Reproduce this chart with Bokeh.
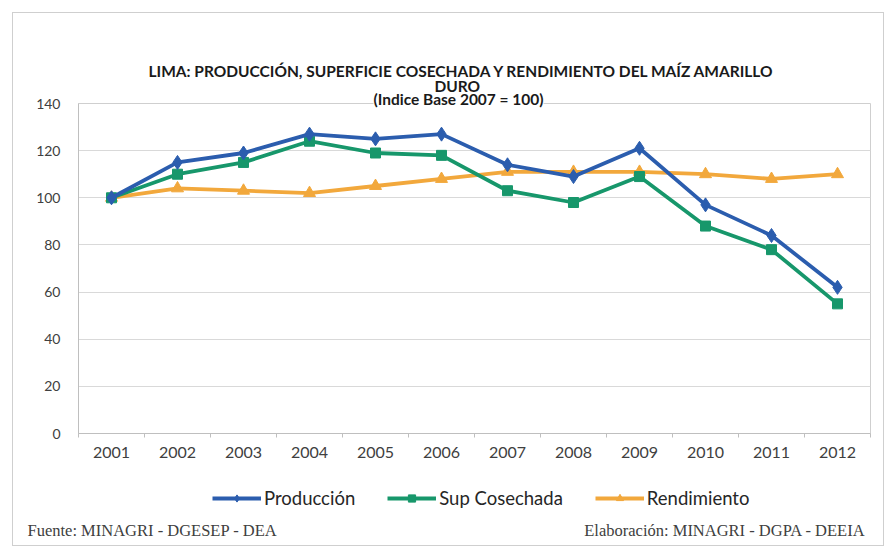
from bokeh.plotting import figure
from bokeh.models import (FixedTicker, Label, Legend, LegendItem, Title, InlineStyleSheet,
                          ColumnDataSource)
from bokeh.embed import file_html
from bokeh.resources import INLINE

years = [2001, 2002, 2003, 2004, 2005, 2006, 2007, 2008, 2009, 2010, 2011, 2012]
produccion = [100, 115, 119, 127, 125, 127, 114, 109, 121, 97, 84, 62]
sup_cosechada = [100, 110, 115, 124, 119, 118, 103, 98, 109, 88, 78, 55]
rendimiento = [100, 104, 103, 102, 105, 108, 111, 111, 111, 110, 108, 110]
y_ticks = [0, 20, 40, 60, 80, 100, 120, 140]
series_names = ["Producción", "Sup Cosechada", "Rendimiento"]

title_1 = "LIMA: PRODUCCIÓN, SUPERFICIE COSECHADA Y RENDIMIENTO DEL MAÍZ AMARILLO"
title_2 = "DURO"
title_3 = "(Indice Base 2007 = 100)"
fuente = "Fuente: MINAGRI - DGESEP - DEA"
elaboracion = "Elaboración: MINAGRI - DGPA - DEEIA"

FONT = "Lato"
c_prod = "#2B5DAE"
c_sup = "#17976B"
c_rend = "#F2A83C"

src = ColumnDataSource(data=dict(year=years, prod=produccion, sup=sup_cosechada, rend=rendimiento))

# ---------------- main chart ----------------
p = figure(width=880, height=470, x_range=(years[0] - 0.5, years[-1] + 0.5),
           y_range=(y_ticks[0], y_ticks[-1]), output_backend="svg",
           toolbar_location=None, min_border_left=78, min_border_right=10,
           min_border_top=103, min_border_bottom=37,
           background_fill_color="white", border_fill_color="white")
p.outline_line_color = "#cfcfcf"


def make_title(txt, offset, standoff, bg=None):
    t = Title(text=txt, align="left", offset=offset, standoff=0,
              text_font=FONT, text_font_style="bold", text_font_size="15.5px",
              text_color="#1a1a1a")
    if bg is not None:
        t.background_fill_color = bg
    try:
        t.standoff = standoff
    except Exception:
        pass
    return t


# first added sits nearest the frame
p.add_layout(make_title(title_3, 295, -9, "white"), "above")
p.add_layout(make_title(title_2, 356, -5), "above")
p.add_layout(make_title(title_1, 70, -5), "above")

p.xaxis.ticker = FixedTicker(ticks=years, minor_ticks=[y - 0.5 for y in years] + [years[-1] + 0.5])
p.xaxis.major_tick_line_color = None
p.xaxis.major_tick_out = 0
p.xaxis.major_tick_in = 0
p.xaxis.minor_tick_out = 4
p.xaxis.minor_tick_in = 0
p.xaxis.minor_tick_line_color = "#bfbfbf"
p.xaxis.axis_line_color = "#bfbfbf"
p.xaxis.major_label_standoff = 9
p.xaxis.major_label_text_font = FONT
p.xaxis.major_label_text_font_size = "16px"
p.xaxis.major_label_text_color = "#404040"

p.yaxis.ticker = FixedTicker(ticks=y_ticks)
p.yaxis.major_tick_line_color = None
p.yaxis.minor_tick_line_color = None
p.yaxis.major_tick_out = 0
p.yaxis.major_tick_in = 0
p.yaxis.axis_line_color = "#bfbfbf"
p.yaxis.major_label_standoff = 18
p.yaxis.major_label_text_font = FONT
p.yaxis.major_label_text_font_size = "14px"
p.yaxis.major_label_text_color = "#404040"

p.xgrid.visible = False
p.ygrid.grid_line_color = "#d9d9d9"
p.ygrid.ticker = FixedTicker(ticks=y_ticks)

p.line("year", "rend", source=src, line_color=c_rend, line_width=3.8)
p.scatter("year", "rend", source=src, marker="triangle", size=12, fill_color=c_rend, line_color=c_rend)
p.line("year", "sup", source=src, line_color=c_sup, line_width=3.8)
p.scatter("year", "sup", source=src, marker="square", size=10, fill_color=c_sup, line_color=c_sup)
p.line("year", "prod", source=src, line_color=c_prod, line_width=3.8)
p.scatter("year", "prod", source=src, marker="diamond", size=14, fill_color=c_prod, line_color=c_prod)

p.stylesheets = [InlineStyleSheet(css=(
    ":host { position: relative; }"
    ":host::after { content: ''; position: absolute; left: 12px; top: 12px; "
    "width: 870px; height: 532px; border: 1px solid #cfcfcf; "
    "pointer-events: none; z-index: 10; }"))]

# ---------------- legend + footers strip (separate root) ----------------
b = figure(width=880, height=70, x_range=(0, 1), y_range=(0, 1), output_backend="svg",
           toolbar_location=None, x_axis_location=None, y_axis_location=None,
           min_border=0, min_border_left=0, min_border_right=0, min_border_top=0,
           min_border_bottom=0, background_fill_color="white", border_fill_color="white")
b.outline_line_color = None
b.grid.visible = False

# legend renderers use the series data; the strip's ranges keep them out of view
items = []
for name, col_name, col, mk, sz in [(series_names[0], "prod", c_prod, "diamond", 14),
                                    (series_names[1], "sup", c_sup, "square", 10),
                                    (series_names[2], "rend", c_rend, "triangle", 12)]:
    lr = b.line("year", col_name, source=src, line_color=col, line_width=3.8)
    sr = b.scatter("year", col_name, source=src, marker=mk, size=sz, fill_color=col, line_color=col)
    items.append(LegendItem(label=name, renderers=[lr, sr]))

legend = Legend(items=items, orientation="horizontal", location=(212, 31),
                glyph_width=49, glyph_height=18, label_height=16,
                label_text_font=FONT, label_text_font_size="18.5px", label_text_color="#262626",
                spacing=32, label_standoff=3, border_line_color=None,
                background_fill_alpha=0, padding=2, margin=0)
b.add_layout(legend, "center")

b.add_layout(Label(x=27, y=10, x_units="screen", y_units="screen", text=fuente,
                   text_align="left", text_baseline="middle", text_font="Liberation Serif",
                   text_font_size="16.5px", text_color="#404040"))
b.add_layout(Label(x=865, y=10, x_units="screen", y_units="screen", text=elaboracion,
                   text_align="right", text_baseline="middle", text_font="Liberation Serif",
                   text_font_size="16.5px", text_color="#404040"))

open("out.html", "w").write(file_html([p, b], INLINE))
